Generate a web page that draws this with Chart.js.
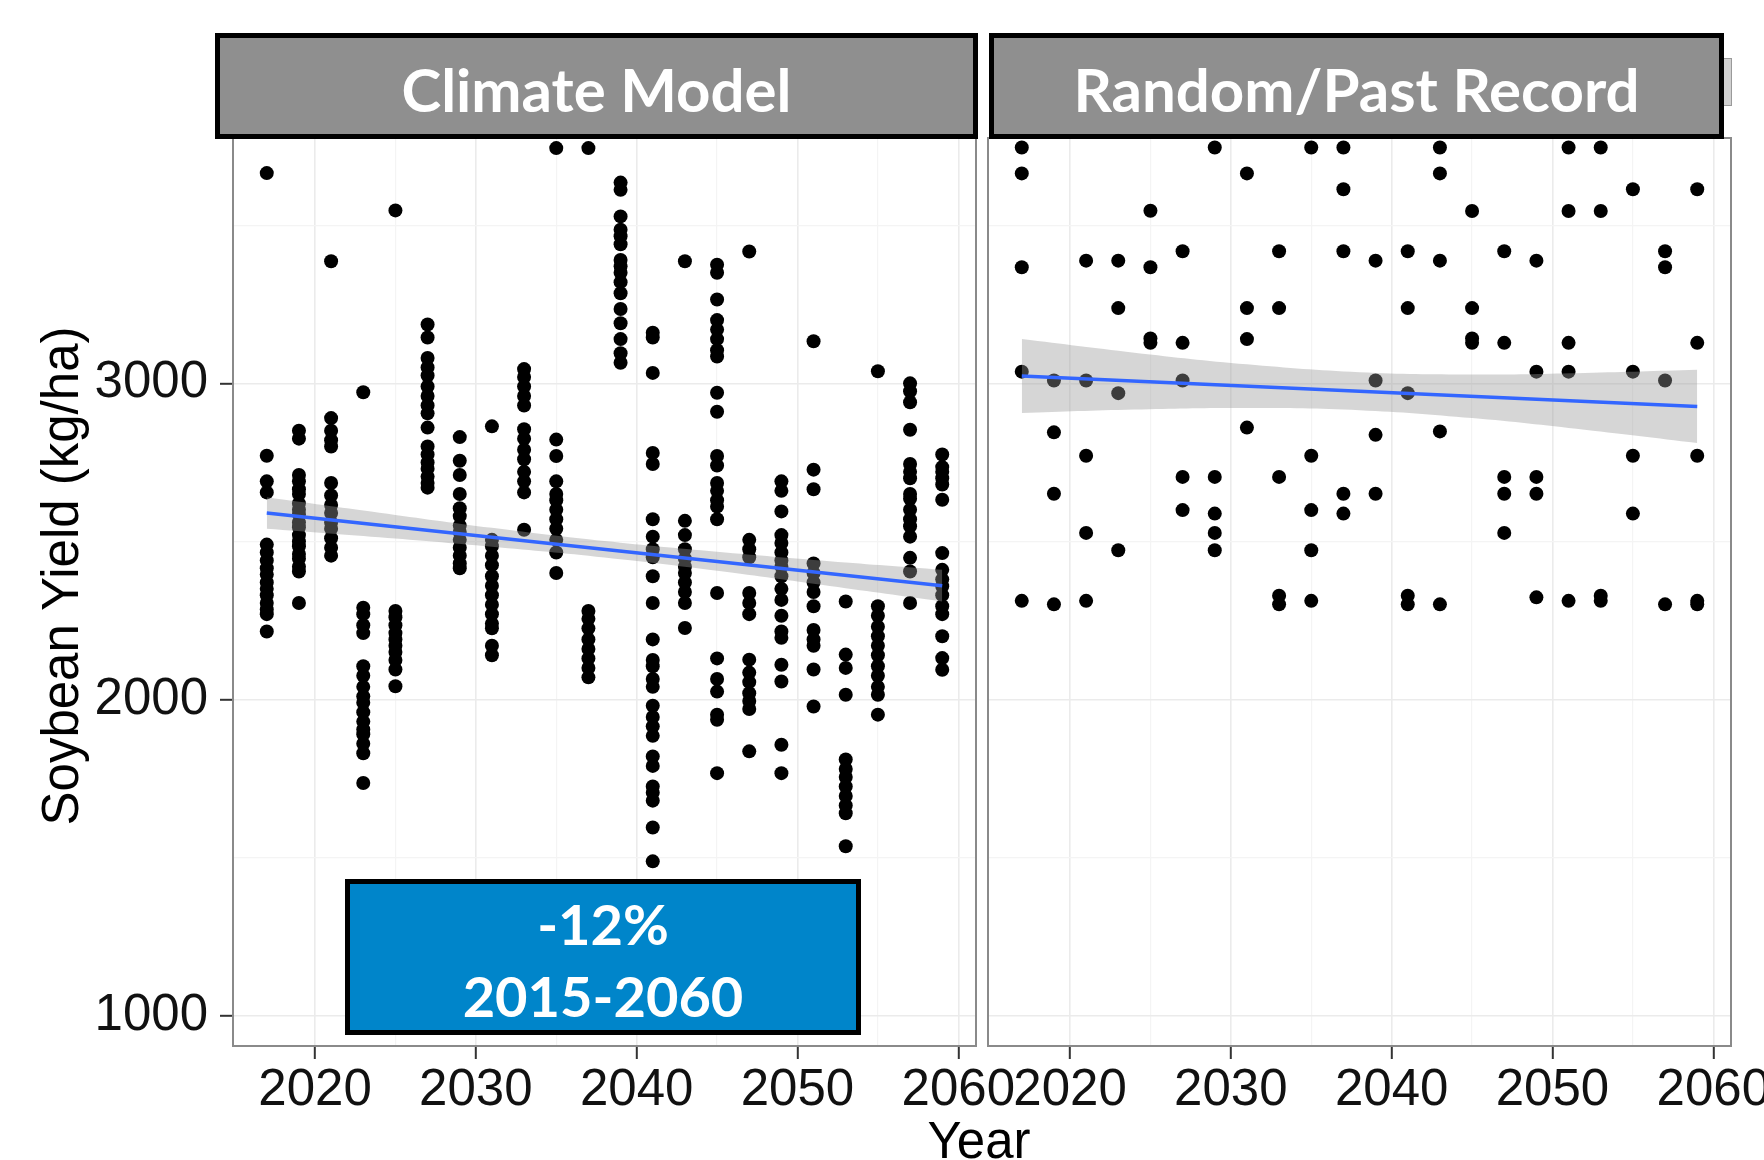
<!DOCTYPE html>
<html><head><meta charset="utf-8">
<script src="https://cdn.jsdelivr.net/npm/chart.js@4.4.1/dist/chart.umd.min.js"></script>
<style>
html,body{margin:0;padding:0;background:#fff;width:1764px;height:1160px;overflow:hidden;position:relative;font-family:"Liberation Sans",Arial,sans-serif;}
canvas{position:absolute;top:0;}
#cLeft{left:0;}
#cRight{left:950px;}
.strip{position:absolute;box-sizing:border-box;background:#8f8f8f;border:5px solid #000;color:#fff;font-family:Lato,"Open Sans",sans-serif;font-weight:700;font-size:60px;line-height:60px;text-align:center;padding-top:21px;}
#noteBox{position:absolute;left:345px;top:879px;width:516px;height:156px;box-sizing:border-box;background:#0085CA;border:5px solid #000;color:#fff;font-family:Lato,"Open Sans",sans-serif;font-weight:700;font-size:56px;line-height:72px;text-align:center;padding-top:4px;}
#yTitle{position:absolute;left:-239px;top:546px;width:600px;height:60px;line-height:60px;text-align:center;font-size:51px;color:#000;transform:rotate(-90deg);white-space:nowrap;}
#xTitle{position:absolute;left:779px;top:1115px;width:400px;text-align:center;font-size:51px;line-height:51px;color:#000;}
#stripRest{position:absolute;left:1723px;top:58px;width:9px;height:48px;box-sizing:border-box;background:#d0d0d0;border:1px solid #9a9a9a;border-left:none;}
</style>
</head><body>
<canvas id="cLeft" width="1030" height="1160" style="width:1030px;height:1160px"></canvas>
<canvas id="cRight" width="860" height="1160" style="width:860px;height:1160px"></canvas>
<div id="stripRest"></div>
<div class="strip" style="left:215px;top:33px;width:763px;height:106px;">Climate Model</div>
<div class="strip" style="left:989px;top:33px;width:735px;height:106px;">Random/Past Record</div>
<div id="noteBox">-12%<br>2015-2060</div>
<div id="yTitle">Soybean Yield (kg/ha)</div>
<div id="xTitle">Year</div>
<script>
// ---------- DATA ----------
const years = [2017,2019,2021,2023,2025,2027,2029,2031,2033,2035,2037,2039,2041,2043,2045,2047,2049,2051,2053,2055,2057,2059];
const xTickValues = [2020,2025,2030,2035,2040,2045,2050,2055,2060];
const xTickLabels = [2020,2030,2040,2050,2060];
const yTickValues = [1000,1500,2000,2500,3000,3500];
const yTickLabels = [1000,2000,3000];

// Climate Model yields (kg/ha) per year
const cm2017 = [3665,2771,2690,2655,2490,2465,2440,2415,2395,2370,2350,2330,2305,2285,2270,2215];
const cm2019 = [2850,2825,2710,2690,2665,2650,2620,2600,2585,2560,2545,2520,2500,2485,2460,2445,2420,2405,2305];
const cm2021 = [3386,2890,2850,2820,2800,2685,2645,2615,2590,2560,2540,2510,2480,2455];
const cm2023 = [2972,2290,2270,2235,2210,2105,2075,2040,2010,1990,1960,1930,1905,1890,1860,1830,1736];
const cm2025 = [3547,2280,2260,2235,2210,2190,2170,2150,2125,2095,2042];
const cm2027 = [3186,3145,3080,3050,3025,2990,2960,2930,2905,2860,2800,2775,2750,2730,2705,2685,2670];
const cm2029 = [2830,2755,2710,2650,2605,2580,2550,2530,2505,2480,2455,2430,2415];
const cm2031 = [2864,2505,2485,2455,2425,2390,2360,2330,2300,2270,2240,2225,2170,2140];
const cm2033 = [3045,3020,2990,2960,2930,2855,2825,2790,2760,2720,2690,2655,2537];
const cm2035 = [3744,2822,2770,2690,2650,2630,2600,2570,2540,2505,2465,2400];
const cm2037 = [3744,2280,2255,2225,2190,2160,2130,2100,2070];
const cm2039 = [3635,3612,3528,3486,3465,3440,3390,3370,3350,3320,3285,3235,3190,3140,3095,3065];
const cm2041 = [3160,3145,3033,2780,2745,2570,2515,2475,2450,2390,2305,2190,2125,2105,2065,2040,1980,1945,1915,1885,1820,1790,1725,1705,1680,1595,1488];
const cm2043 = [3386,2565,2520,2475,2445,2420,2400,2370,2340,2305,2226];
const cm2045 = [3375,3350,3265,3200,3170,3140,3105,3085,2970,2910,2770,2740,2685,2660,2630,2610,2570,2337,2130,2065,2025,1952,1936,1767];
const cm2047 = [3417,2505,2475,2450,2337,2305,2270,2126,2085,2055,2020,1995,1970,1836];
const cm2049 = [2690,2660,2595,2520,2495,2465,2440,2420,2390,2350,2315,2265,2215,2195,2110,2057,1857,1767];
const cm2051 = [3133,2727,2665,2430,2400,2370,2340,2295,2220,2190,2170,2095,1978];
const cm2053 = [2310,2142,2100,2015,1810,1780,1755,1725,1695,1665,1640,1536];
const cm2055 = [3038,2295,2265,2230,2200,2170,2140,2105,2075,2040,2015,1952];
const cm2057 = [3000,2975,2940,2853,2745,2720,2700,2650,2635,2600,2570,2548,2515,2448,2405,2305];
const cm2059 = [2775,2735,2720,2700,2680,2632,2463,2410,2380,2358,2330,2295,2270,2200,2131,2094];
const climateColumns = [cm2017,cm2019,cm2021,cm2023,cm2025,cm2027,cm2029,cm2031,cm2033,cm2035,cm2037,cm2039,cm2041,cm2043,cm2045,cm2047,cm2049,cm2051,cm2053,cm2055,cm2057,cm2059];

// Random / Past Record yields (kg/ha) per year
const rp2017 = [3746,3664,3367,3037,2312];
const rp2019 = [3009,2845,2651,2301];
const rp2021 = [3388,3009,2771,2527,2312];
const rp2023 = [3388,3238,2969,2472];
const rp2025 = [3546,3367,3142,3128];
const rp2027 = [3418,3128,3009,2704,2599];
const rp2029 = [3746,2704,2588,2527,2472];
const rp2031 = [3664,3238,3140,2860];
const rp2033 = [3418,3238,2704,2328,2301];
const rp2035 = [3746,2771,2599,2472,2312];
const rp2037 = [3746,3614,3418,2651,2588];
const rp2039 = [3388,3009,2837,2651];
const rp2041 = [3418,3238,2969,2328,2301];
const rp2043 = [3746,3664,3388,2848,2301];
const rp2045 = [3545,3238,3142,3128];
const rp2047 = [3418,3128,2704,2651,2527];
const rp2049 = [3388,3037,2704,2651,2323];
const rp2051 = [3746,3545,3128,3037,2312];
const rp2053 = [3746,3545,2328,2312];
const rp2055 = [3614,3037,2771,2588];
const rp2057 = [3418,3367,3009,2301];
const rp2059 = [3614,3128,2771,2312,2301];
const pastColumns = [rp2017,rp2019,rp2021,rp2023,rp2025,rp2027,rp2029,rp2031,rp2033,rp2035,rp2037,rp2039,rp2041,rp2043,rp2045,rp2047,rp2049,rp2051,rp2053,rp2055,rp2057,rp2059];

// Linear trend and confidence band
const trendYears = [2017,2059];
const climateTrend = [2590,2360];
const pastTrend = [3023,2927];
const bandYears = [2017,2024,2031,2038,2045,2052,2059];
const climateBandHigh = [2640,2591,2543,2501,2467,2437,2410];
const climateBandLow  = [2540,2513,2483,2449,2407,2359,2310];
const pastBandHigh = [3140,3097,3060,3035,3028,3033,3043];
const pastBandLow  = [2906,2917,2922,2915,2890,2853,2811];

const xMin = 2014.9, xMax = 2061.1, yMin = 904, yMax = 3776;

// ---------- CHART ----------
Chart.defaults.font.family = '"Liberation Sans", Arial, sans-serif';

function toPoints(cols){
  const pts = [];
  cols.forEach((vals,i)=>vals.forEach(v=>pts.push({x:years[i], y:v})));
  return pts;
}
function pair(xs, ys){ return xs.map((x,i)=>({x:x, y:ys[i]})); }

const panelBorder = {
  id:'panelBorder',
  afterDatasetsDraw(chart){
    const {ctx, chartArea:a} = chart;
    ctx.save();
    ctx.strokeStyle = '#8a8a8a';
    ctx.lineWidth = 2;
    ctx.strokeRect(a.left, a.top, a.right-a.left, a.bottom-a.top);
    ctx.restore();
  }
};

function makeChart(canvasId, cols, trend, bandHigh, bandLow, showY, pad){
  return new Chart(document.getElementById(canvasId), {
    type:'scatter',
    data:{
      datasets:[
        {type:'line', data:pair(trendYears, trend), borderColor:'#3366FF', borderWidth:3.5, pointRadius:0, fill:false, order:1},
        {type:'line', data:pair(bandYears, bandHigh), borderColor:'rgba(0,0,0,0)', borderWidth:1, pointRadius:0, tension:0.4, fill:'+1', backgroundColor:'rgba(153,153,153,0.4)', order:2},
        {type:'line', data:pair(bandYears, bandLow), borderColor:'rgba(0,0,0,0)', borderWidth:1, pointRadius:0, tension:0.4, fill:false, order:2},
        {data:toPoints(cols), backgroundColor:'#000', borderWidth:0, pointRadius:7, pointHoverRadius:7, order:3}
      ]
    },
    options:{
      responsive:false, animation:false, devicePixelRatio:1,
      layout:{padding:pad},
      plugins:{legend:{display:false}, tooltip:{enabled:false}, filler:{drawTime:'beforeDatasetDraw'}},
      scales:{
        x:{
          type:'linear', min:xMin, max:xMax,
          afterBuildTicks:(s)=>{ s.ticks = xTickValues.map(v=>({value:v})); },
          afterFit:(s)=>{ s.height = 114; },
          border:{display:false},
          grid:{
            color:(c)=> (c.tick && xTickLabels.includes(c.tick.value)) ? '#ebebeb' : '#f4f4f4',
            lineWidth:(c)=> (c.tick && xTickLabels.includes(c.tick.value)) ? 1.6 : 1.2,
            tickLength:13, tickWidth:2,
            tickColor:(c)=> (c.tick && xTickLabels.includes(c.tick.value)) ? '#333333' : 'rgba(0,0,0,0)'
          },
          ticks:{
            autoSkip:false, maxRotation:0, minRotation:0, padding:1, color:'#111',
            font:{size:51},
            callback:(v)=> xTickLabels.includes(v) ? String(v) : ''
          }
        },
        y:{
          type:'linear', min:yMin, max:yMax,
          afterBuildTicks:(s)=>{ s.ticks = yTickValues.map(v=>({value:v})); },
          afterFit:(s)=>{ s.width = showY ? 233 : 38; },
          border:{display:false},
          grid:{
            color:(c)=> (c.tick && yTickLabels.includes(c.tick.value)) ? '#ebebeb' : '#f4f4f4',
            lineWidth:(c)=> (c.tick && yTickLabels.includes(c.tick.value)) ? 1.6 : 1.2,
            drawTicks:showY, tickLength:13, tickWidth:2,
            tickColor:(c)=> (c.tick && yTickLabels.includes(c.tick.value)) ? '#333333' : 'rgba(0,0,0,0)'
          },
          ticks:{
            display:showY, padding:12, color:'#111',
            font:{size:51},
            callback:(v)=> yTickLabels.includes(v) ? String(v) : ''
          }
        }
      }
    },
    plugins:[panelBorder]
  });
}

makeChart('cLeft', climateColumns, climateTrend, climateBandHigh, climateBandLow, true, {left:0, right:54, top:138, bottom:0});
makeChart('cRight', pastColumns, pastTrend, pastBandHigh, pastBandLow, false, {left:0, right:79, top:138, bottom:0});
</script>
</body></html>
